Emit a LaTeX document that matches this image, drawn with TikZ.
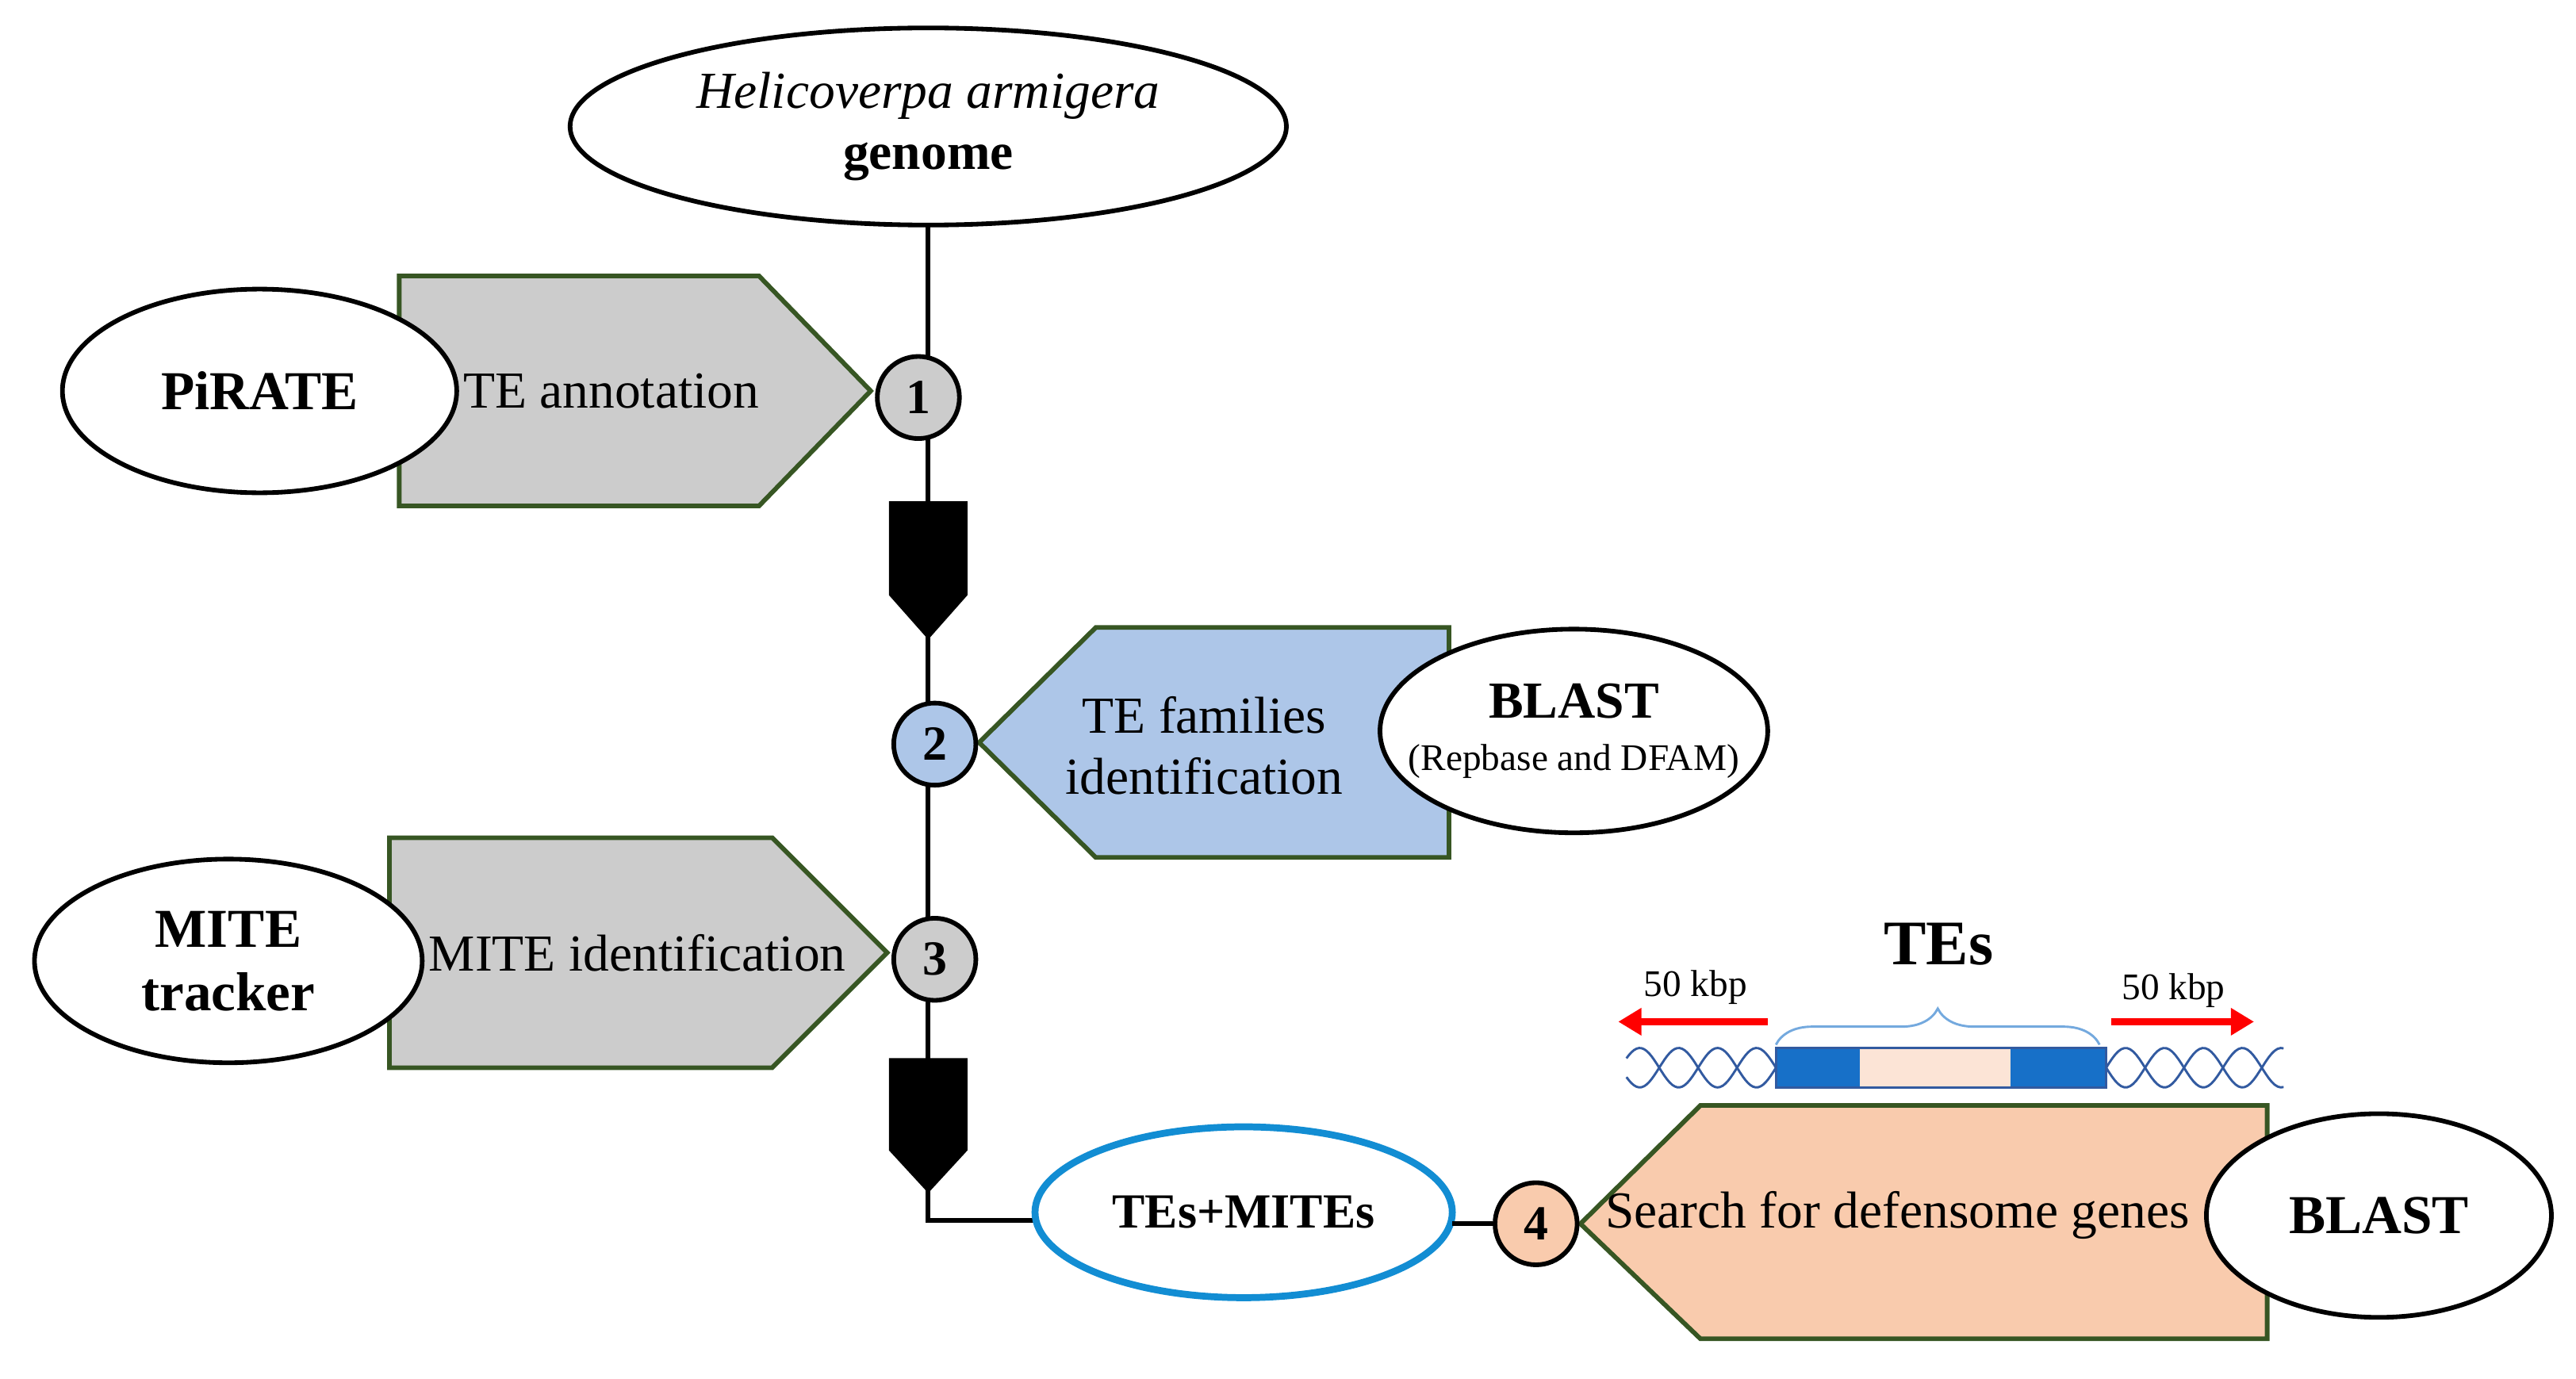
\documentclass[tikz,border=0pt]{standalone}
\usepackage{fontspec}
\setmainfont{Liberation Serif}
\usetikzlibrary{decorations.pathreplacing,arrows.meta}
\begin{document}
\begin{tikzpicture}[x=0.02cm,y=-0.02cm,
  ell/.style={draw=black,line width=1.6pt,fill=white},
  pent/.style={draw=pgreen,line width=1.6pt},
  num/.style={circle,draw=black,line width=1.6pt,minimum size=50*0.02cm,inner sep=0pt,font=\fontsize{17}{20}\selectfont\bfseries},
  lbl/.style={font=\fontsize{18}{21}\selectfont,align=center},
  conn/.style={line width=1.7pt}]
\definecolor{pgray}{RGB}{204,204,204}
\definecolor{pblue}{RGB}{173,198,232}
\definecolor{porange}{RGB}{249,203,173}
\definecolor{pgreen}{RGB}{55,86,35}
\definecolor{dnablue}{RGB}{23,112,200}
\definecolor{dnaline}{RGB}{50,90,160}
\definecolor{tepink}{RGB}{252,228,214}
\useasboundingbox (0,0) rectangle (1568,839.5);
% top ellipse
\draw[ell] (565,77) ellipse (218 and 60);
\node[lbl] (top) at (565,77) {\itshape Helicoverpa armigera\\\bfseries genome};
\coordinate (ttop) at (565,137);
\coordinate (corner) at (565,743);
% main line
\draw[conn] (ttop) -- (corner) -- (630,743);
% pentagons
\draw[pent,fill=pgray] (243,168) -- (462,168) -- (530,238) -- (462,308) -- (243,308) -- cycle;
\draw[pent,fill=pblue] (882,382) -- (667,382) -- (596,452) -- (667,522) -- (882,522) -- cycle;
\draw[pent,fill=pgray] (237,510) -- (470,510) -- (540,580) -- (470,650) -- (237,650) -- cycle;
\draw[pent,fill=porange] (1380,673) -- (1035,673) -- (962,745) -- (1035,815) -- (1380,815) -- cycle;
\node[lbl] (t1) at (372,238) {TE annotation};
\node[lbl] (t2) at (733,454) {TE families\\identification};
\node[lbl] (t3) at (388,580) {MITE identification};
\node[lbl] (t4) at (1155,740) {Search for defensome genes};
% black arrows
\draw[fill=black,line width=1pt] (542,306) -- (588,306) -- (588,362) -- (565,388) -- (542,362) -- cycle;
\draw[fill=black,line width=1pt] (542,645) -- (588,645) -- (588,700) -- (565,725) -- (542,700) -- cycle;
% ellipses
\draw[ell] (158,238) ellipse (120 and 62);
\node[lbl,font=\fontsize{19}{22}\selectfont\bfseries] (pirate) at (158,238) {PiRATE};
\draw[ell] (958,445) ellipse (118 and 62);
\node[lbl] (blast1) at (958,445) {\bfseries BLAST\\[-3pt]{\fontsize{13}{15}\selectfont (Repbase and DFAM)}};
\draw[ell] (139,585) ellipse (118 and 62);
\node[lbl,font=\fontsize{19}{22}\selectfont\bfseries] (mite) at (139,585) {MITE\\tracker};
\draw[draw=dnablue!80!cyan,line width=2.4pt,fill=white] (757,738) ellipse (127 and 52);
\node[lbl,font=\fontsize{17}{20}\selectfont\bfseries] (temite) at (757,738) {TEs+MITEs};
\draw[ell] (1448,740) ellipse (105 and 62);
\node[lbl,font=\fontsize{19}{22}\selectfont\bfseries] (blast2) at (1448,740) {BLAST};
% circles
\node[num,fill=pgray] (c1) at (559,242) {1};
\node[num,fill=pblue] (c2) at (569,453) {2};
\node[num,fill=pgray] (c3) at (569,584) {3};
\node[num,fill=porange] (c4) at (935,745) {4};
\coordinate (tr) at (884,745);
\draw[conn] (tr) -- (c4);
% DNA
\draw[dnaline,line width=0.8pt,domain=990:1081,samples=60] plot (\x,{650+12*sin((\x-1081)*7.6)});
\draw[dnaline,line width=0.8pt,domain=990:1081,samples=60] plot (\x,{650-12*sin((\x-1081)*7.6)});
\draw[dnaline,line width=0.8pt,domain=1282:1390,samples=60] plot (\x,{650+12*sin((\x-1282)*7.6)});
\draw[dnaline,line width=0.8pt,domain=1282:1390,samples=60] plot (\x,{650-12*sin((\x-1282)*7.6)});
\fill[tepink] (1132,638) rectangle (1224,662);
\fill[dnablue] (1081,638) rectangle (1132,662);
\fill[dnablue] (1224,638) rectangle (1282,662);
\draw[dnaline,line width=0.8pt] (1081,638) rectangle (1282,662);
\coordinate (la) at (1076,622); \coordinate (lb) at (985,622);
\coordinate (ra) at (1285,622); \coordinate (rb) at (1372,622);
\draw[red,line width=2.6pt,-{Triangle[length=8pt,width=9pt]}] (la) -- (lb);
\draw[red,line width=2.6pt,-{Triangle[length=8pt,width=9pt]}] (ra) -- (rb);
\node[font=\fontsize{13}{15}\selectfont] (k1) at (1032,601) {50 kbp};
\node[font=\fontsize{13}{15}\selectfont] (k2) at (1323,603) {50 kbp};
\draw[dnablue!60,line width=0.8pt,decorate,decoration={brace,amplitude=0.44cm}] (1081,636) -- (1278,636);
\node[font=\fontsize{22}{26}\selectfont\bfseries] (tes) at (1180,575) {TEs};
\end{tikzpicture}
\end{document}
